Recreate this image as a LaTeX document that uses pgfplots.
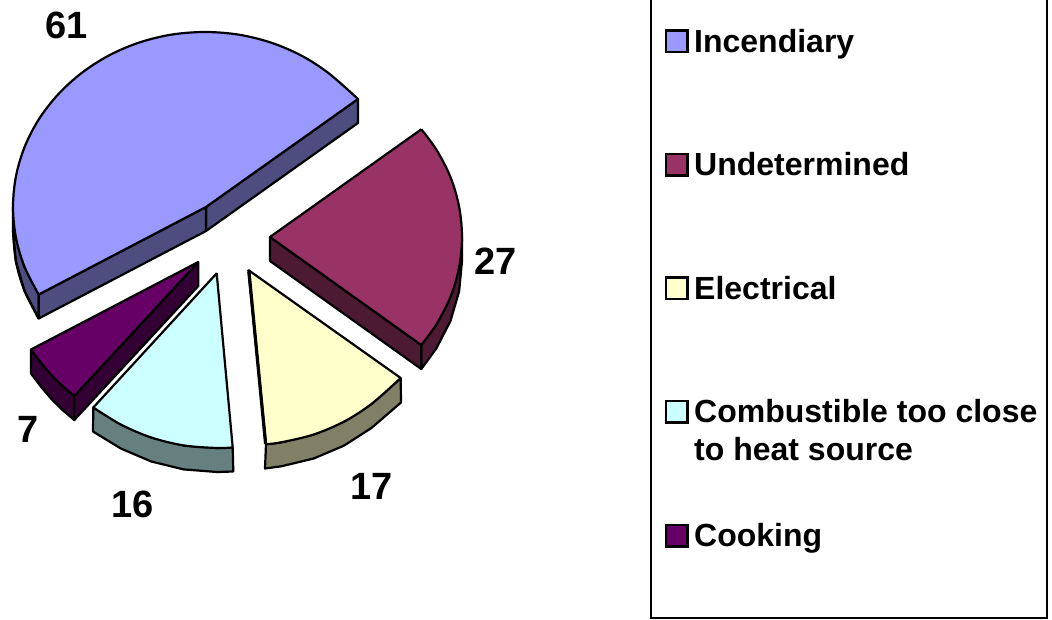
\documentclass[border=0pt]{standalone}
\usepackage{fontspec}
\setmainfont{Liberation Sans}
\usepackage{pgfplots}
\pgfplotsset{compat=1.18}
\definecolor{incT}{HTML}{9999FF}\definecolor{incS}{HTML}{4D4D80}
\definecolor{undT}{HTML}{993366}\definecolor{undS}{HTML}{4D1A33}
\definecolor{eleT}{HTML}{FFFFCC}\definecolor{eleS}{HTML}{808066}
\definecolor{comT}{HTML}{CCFFFF}\definecolor{comS}{HTML}{668080}
\definecolor{cooT}{HTML}{660066}\definecolor{cooS}{HTML}{330033}
\pgfplotsset{
  wall/.style={draw=black,line width=2.2pt,line join=round,mark=none},
  topf/.style={draw=none,mark=none},
  arc/.style={draw=black,line width=2.2pt,smooth,tension=0.55,mark=none},
  edge/.style={draw=black,line width=2.2pt,line join=bevel,mark=none},
  swatch/.style={draw=black,line width=2.2pt,line join=miter,mark=none},
}
\newcommand{\lab}[3]{\node[anchor=base west,inner sep=0pt,font=\fontsize{#3}{#3}\selectfont\bfseries] at (axis cs:#1) {#2};}
\begin{document}
\begin{tikzpicture}
\useasboundingbox (0,0) rectangle (1052pt,619pt);
\begin{axis}[at={(0,0)},anchor=south west,scale only axis,width=1052pt,height=619pt,xmin=0,xmax=1052,ymin=0,ymax=619,y dir=reverse,axis lines=none,clip=true]
% ---- Incendiary (61)
\addplot[wall,fill=incS] coordinates {(13,207)(15.9,237.4)(24.5,266.8)(38.7,294.5)(38.7,318.5)(24.5,290.8)(15.9,261.4)(13,231)} --cycle;
\addplot[wall,fill=incS] coordinates {(358,99)(358,123)(206,231)(206,207)} --cycle;
\addplot[wall,fill=incS] coordinates {(206,207)(206,231)(38.7,318.5)(38.7,294.5)} --cycle;
\addplot[arc] coordinates {(13,231)(15.9,261.4)(24.5,290.8)(38.7,318.5)};
\addplot[topf,fill=incT] coordinates {(358,99)(328.4,73)(301,55.4)(270.7,42.5)(238.4,34.6)(205,32)(171.6,34.6)(139.3,42.5)(109,55.4)(81.6,73)(58,94.5)(38.7,119.5)(24.5,147.2)(15.9,176.6)(13,207)(15.9,237.4)(24.5,266.8)(38.7,294.5)(206,207)} --cycle;
\addplot[arc] coordinates {(358,99)(328.4,73)(301,55.4)(270.7,42.5)(238.4,34.6)(205,32)(171.6,34.6)(139.3,42.5)(109,55.4)(81.6,73)(58,94.5)(38.7,119.5)(24.5,147.2)(15.9,176.6)(13,207)(15.9,237.4)(24.5,266.8)(38.7,294.5)};
\addplot[edge] coordinates {(38.7,294.5)(206,207)(358,99)};
% ---- Undetermined (27)
\addplot[wall,fill=undS] coordinates {(462,237)(459.1,267.4)(450.5,296.9)(436.3,324.5)(421.3,345)(421.3,369)(436.3,348.5)(450.5,320.9)(459.1,291.4)(462,261)} --cycle;
\addplot[wall,fill=undS] coordinates {(270,237)(270,261)(421.3,369)(421.3,345)} --cycle;
\addplot[topf,fill=undT] coordinates {(270,237)(421.3,129.3)(436.3,149.5)(450.5,177.1)(459.1,206.6)(462,237)(459.1,267.4)(450.5,296.9)(436.3,324.5)(421.3,345)} --cycle;
\addplot[arc] coordinates {(421.3,129.3)(436.3,149.5)(450.5,177.1)(459.1,206.6)(462,237)(459.1,267.4)(450.5,296.9)(436.3,324.5)(421.3,345)};
\addplot[edge] coordinates {(421.3,345)(270,237)(421.3,129.3)};
% ---- Electrical (17)
\addplot[wall,fill=eleS] coordinates {(400.7,378)(371.4,404)(344,421.6)(313.7,434.5)(281.3,442.3)(266,444.2)(265,468.5)(281.3,466.3)(313.7,458.5)(344,445.6)(371.4,428)(401,402.5)} --cycle;
\addplot[topf,fill=eleT] coordinates {(248.3,270)(400.7,378)(371.4,404)(344,421.6)(313.7,434.5)(281.3,442.3)(266,444.2)} --cycle;
\addplot[arc] coordinates {(400.7,378)(371.4,404)(344,421.6)(313.7,434.5)(281.3,442.3)(266,444.2)};
\addplot[edge] coordinates {(266,444.2)(248.3,270)(400.7,378)};
\addplot[draw=black,line width=3.2pt,mark=none] coordinates {(249,272)(265.6,444)};
% ---- Combustible (16)
\addplot[wall,fill=comS] coordinates {(232.7,447.4)(217,448)(183.6,445.4)(151.3,437.5)(121,424.6)(93.3,407.5)(93,431.5)(121,448.6)(151.3,461.5)(183.6,469.4)(217,472)(233.3,471.5)} --cycle;
\addplot[topf,fill=comT] coordinates {(216.7,273.3)(232.7,447.4)(217,448)(183.6,445.4)(151.3,437.5)(121,424.6)(93.3,407.5)} --cycle;
\addplot[arc] coordinates {(232.7,447.4)(217,448)(183.6,445.4)(151.3,437.5)(121,424.6)(93.3,407.5)};
\addplot[edge] coordinates {(93.3,407.5)(216.7,273.3)(232.7,447.4)};
% ---- Cooking (7)
\addplot[wall,fill=cooS] coordinates {(31,349.5)(40.7,362.4)(51,374.5)(62.2,385.7)(74.3,396)(74.3,420)(62.2,409.7)(51,398.5)(40.7,386.4)(31,373.5)} --cycle;
\addplot[wall,fill=cooS] coordinates {(198.3,262)(198.3,286)(74.3,420)(74.3,396)} --cycle;
\addplot[topf,fill=cooT] coordinates {(198.3,262)(31,349.5)(40.7,362.4)(51,374.5)(62.2,385.7)(74.3,396)} --cycle;
\addplot[arc] coordinates {(31,349.5)(40.7,362.4)(51,374.5)(62.2,385.7)(74.3,396)};
\addplot[edge] coordinates {(74.3,396)(198.3,262)(31,349.5)};
% ---- Legend frame
\addplot[draw=black,line width=2.2pt,mark=none] coordinates {(651,0)(651,618)(1047.3,618)(1047.3,0)};
% ---- Legend swatches
\addplot[swatch,fill=incT] coordinates {(666,30.5)(687.5,30.5)(687.5,52)(666,52)} --cycle;
\addplot[swatch,fill=undT] coordinates {(666,154)(687.5,154)(687.5,175.5)(666,175.5)} --cycle;
\addplot[swatch,fill=eleT] coordinates {(666,277.5)(687.5,277.5)(687.5,299)(666,299)} --cycle;
\addplot[swatch,fill=comT] coordinates {(666,401)(687.5,401)(687.5,422.5)(666,422.5)} --cycle;
\addplot[swatch,fill=cooT] coordinates {(666,525)(687.5,525)(687.5,546.5)(666,546.5)} --cycle;
% ---- Legend text
\lab{694,52}{Incendiary}{32}
\lab{694,175.5}{Undetermined}{32}
\lab{694,299}{Electrical}{32}
\lab{694,422}{Combustible too close}{32}
\lab{694,460}{to heat source}{32}
\lab{694,546.5}{Cooking}{32}
% ---- Data labels
\lab{45.2,38.3}{61}{38}
\lab{474.5,274.5}{27}{38}
\lab{350,499.3}{17}{38}
\lab{111,517}{16}{38}
\lab{17.3,442.7}{7}{38}
\end{axis}
\end{tikzpicture}
\end{document}
